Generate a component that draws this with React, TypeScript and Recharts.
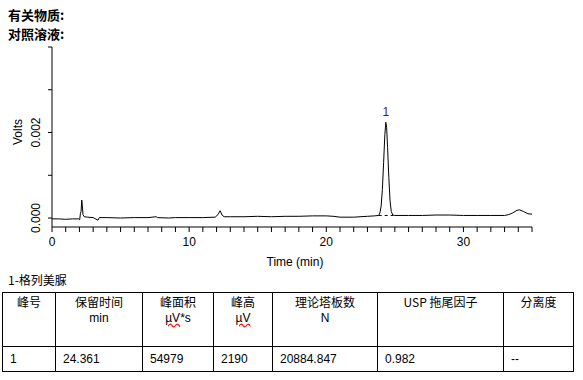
import { Line, LineChart, ReferenceDot, ReferenceLine, XAxis, YAxis } from "recharts";

// chromatogram trace (min, V)
const times = [
  0.0, 0.5, 1.0, 1.5, 1.95, 2.02, 2.07, 2.12, 2.17, 2.21, 2.26, 2.35, 2.6, 3.0,
  3.35, 3.45, 4.0, 5.0, 6.0, 7.0, 7.6, 7.7, 8.5, 9.0, 10.0, 11.0, 11.9, 12.1,
  12.26, 12.4, 12.55, 13.0, 14.0, 15.0, 16.0, 17.0, 18.0, 19.0, 20.0, 20.5,
  21.0, 22.0, 23.0, 23.5, 23.82, 23.91, 24.0, 24.09, 24.18, 24.27, 24.34,
  24.4, 24.47, 24.56, 24.65, 24.74, 24.85, 25.0, 26.0, 27.0, 28.0, 29.0, 30.0,
  31.0, 32.0, 33.0, 33.3, 33.6, 33.9, 34.1, 34.4, 34.7, 35.0,
];
const volts = [
  -0.00002, -0.00002, -0.00003, -0.00002, -0.00002, -0.00004, 0.0001,
  0.00015, 0.00042, 0.0003, 0.00008, 0.00003, 0.00002, 0.00001, -0.00005,
  0.00001, 0.00001, 0.0, 0.00001, 0.00001, 0.00003, 0.00001, 0.0, 0.00001,
  0.00001, 0.00001, 0.00002, 0.00008, 0.00017, 0.00007, 0.00003, 0.00003,
  0.00003, 0.00004, 0.00003, 0.00004, 0.00004, 0.00005, 0.00005, 0.00004,
  0.00002, 0.00002, 0.00004, 0.00005, 0.00006, 0.00012, 0.00028, 0.00067,
  0.0013, 0.00195, 0.00224, 0.00212, 0.00165, 0.00095, 0.0004, 0.00015,
  0.00007, 0.00006, 0.00006, 0.00006, 0.00007, 0.00007, 0.00006, 0.00006,
  0.00006, 0.00006, 0.00008, 0.00012, 0.00018, 0.00019, 0.00015, 0.0001,
  0.00009,
];

const xTicks = [
  0, 1, 2, 3, 4, 5, 6, 7, 8, 9, 10, 11, 12, 13, 14, 15, 16, 17, 18, 19, 20,
  21, 22, 23, 24, 25, 26, 27, 28, 29, 30, 31, 32, 33, 34, 35,
];
const xLabelled = [0, 10, 20, 30];
const yTicks = [0, 0.001, 0.002, 0.003, 0.004];
const yLabelled = [0, 0.002];

// peak 1
const peakName = "1";
const peakTime = 24.34;
const peakTop = 0.00224;
const peakStart = { x: 23.82, y: 0.00006 };
const peakEnd = { x: 24.87, y: 0.00006 };

const headerNames = ["峰号", "保留时间", "峰面积", "峰高", "理论塔板数", "USP 拖尾因子", "分离度"];
const headerUnits = ["", "min", "µV*s", "µV", "N", "", ""];
const peakRow = ["1", "24.361", "54979", "2190", "20884.847", "0.982", "--"];
const colWidths = [53, 87, 71, 59, 105, 126, 70];

const data = times.map((t, i) => ({ t, v: volts[i] }));

const FONT = '"Liberation Sans", Arial, "Noto Sans CJK SC", sans-serif';

function XTick(props: any) {
  const { x, y, payload } = props;
  if (!xLabelled.includes(payload.value)) return <g />;
  return (
    <text x={x} y={y + 12} textAnchor="middle" fontSize={12} fontFamily={FONT} fill="#000">
      {payload.value}
    </text>
  );
}

function YTick(props: any) {
  const { x, y, payload } = props;
  if (!yLabelled.includes(payload.value)) return <g />;
  const bx = x - 6;
  return (
    <text
      x={bx}
      y={y}
      transform={`rotate(-90, ${bx}, ${y})`}
      textAnchor="middle"
      fontSize={12}
      fontFamily={FONT}
      fill="#000"
    >
      {payload.value.toFixed(3)}
    </text>
  );
}

function UnitText({ unit }: { unit: string }) {
  if (unit.startsWith("µV")) {
    return (
      <span>
        <span style={{ textDecoration: "underline wavy red" }}>µV</span>
        {unit.slice(2)}
      </span>
    );
  }
  return <span>{unit}</span>;
}

export default function App() {
  const cell: React.CSSProperties = {
    border: "1px solid #000",
    padding: 0,
    fontSize: 12,
    fontFamily: FONT,
    color: "#000",
  };
  return (
    <div style={{ position: "relative", width: 583, height: 380, background: "#fff", overflow: "hidden" }}>
      <style>{`body{margin:0}`}</style>
      <div
        style={{
          position: "absolute",
          left: 8,
          top: 5,
          fontSize: 13,
          fontWeight: "bold",
          fontFamily: '"Noto Sans CJK SC", sans-serif',
          lineHeight: "19px",
        }}
      >
        <div>有关物质:</div>
        <div>对照溶液:</div>
      </div>
      <div style={{ position: "absolute", left: 0, top: 0 }}>
        <LineChart width={583} height={272} data={data} margin={{ top: 47, right: 51, bottom: 0, left: 0 }}>
          <XAxis
            dataKey="t"
            type="number"
            domain={[0, 35]}
            ticks={xTicks}
            interval={0}
            tickSize={5}
            tickMargin={2}
            height={45}
            stroke="#000"
            tick={<XTick />}
            label={{
              content: () => (
                <text x={295} y={266} textAnchor="middle" fontSize={12} fontFamily={FONT} fill="#000">
                  Time (min)
                </text>
              ),
            }}
          />
          <YAxis
            type="number"
            domain={[-0.00021, 0.004]}
            ticks={yTicks}
            interval={0}
            tickSize={4}
            tickMargin={2}
            width={52}
            stroke="#000"
            tick={<YTick />}
            label={{
              content: () => (
                <text
                  x={22}
                  y={132}
                  transform="rotate(-90, 22, 132)"
                  textAnchor="middle"
                  fontSize={12}
                  fontFamily={FONT}
                  fill="#000"
                >
                  Volts
                </text>
              ),
            }}
          />
          <ReferenceLine
            segment={[peakStart, peakEnd]}
            stroke="#000"
            strokeDasharray="3 3"
            strokeWidth={1}
          />
          <Line
            type="linear"
            dataKey="v"
            stroke="#000"
            strokeWidth={1}
            dot={false}
            isAnimationActive={false}
          />
          <ReferenceDot
            x={peakTime}
            y={peakTop}
            r={0}
            stroke="none"
            label={{ value: peakName, position: "top", offset: 6, fontSize: 12, fontFamily: FONT, fill: "#3a1a7a" }}
          />
        </LineChart>
      </div>
      <div
        style={{
          position: "absolute",
          left: 8,
          top: 272,
          fontSize: 12,
          fontFamily: '"Noto Sans CJK SC", sans-serif',
          lineHeight: "16px",
        }}
      >
        1-格列美脲
      </div>
      <table
        style={{
          position: "absolute",
          left: 2,
          top: 292,
          borderCollapse: "collapse",
          tableLayout: "fixed",
          width: 571,
        }}
      >
        <colgroup>
          {colWidths.map((w, i) => (
            <col key={i} style={{ width: w }} />
          ))}
        </colgroup>
        <tbody>
          <tr style={{ height: 54 }}>
            {headerNames.map((h, i) => (
              <td key={i} style={{ ...cell, verticalAlign: "top", textAlign: "center", lineHeight: "17px" }}>
                <div style={{ fontFamily: '"Noto Sans CJK SC", sans-serif' }}>{h}</div>
                {headerUnits[i] && (
                  <div>
                    <UnitText unit={headerUnits[i]} />
                  </div>
                )}
              </td>
            ))}
          </tr>
          <tr style={{ height: 25 }}>
            {peakRow.map((v, i) => (
              <td key={i} style={{ ...cell, paddingLeft: 7, verticalAlign: "middle", textAlign: "left" }}>
                {v}
              </td>
            ))}
          </tr>
        </tbody>
      </table>
    </div>
  );
}
